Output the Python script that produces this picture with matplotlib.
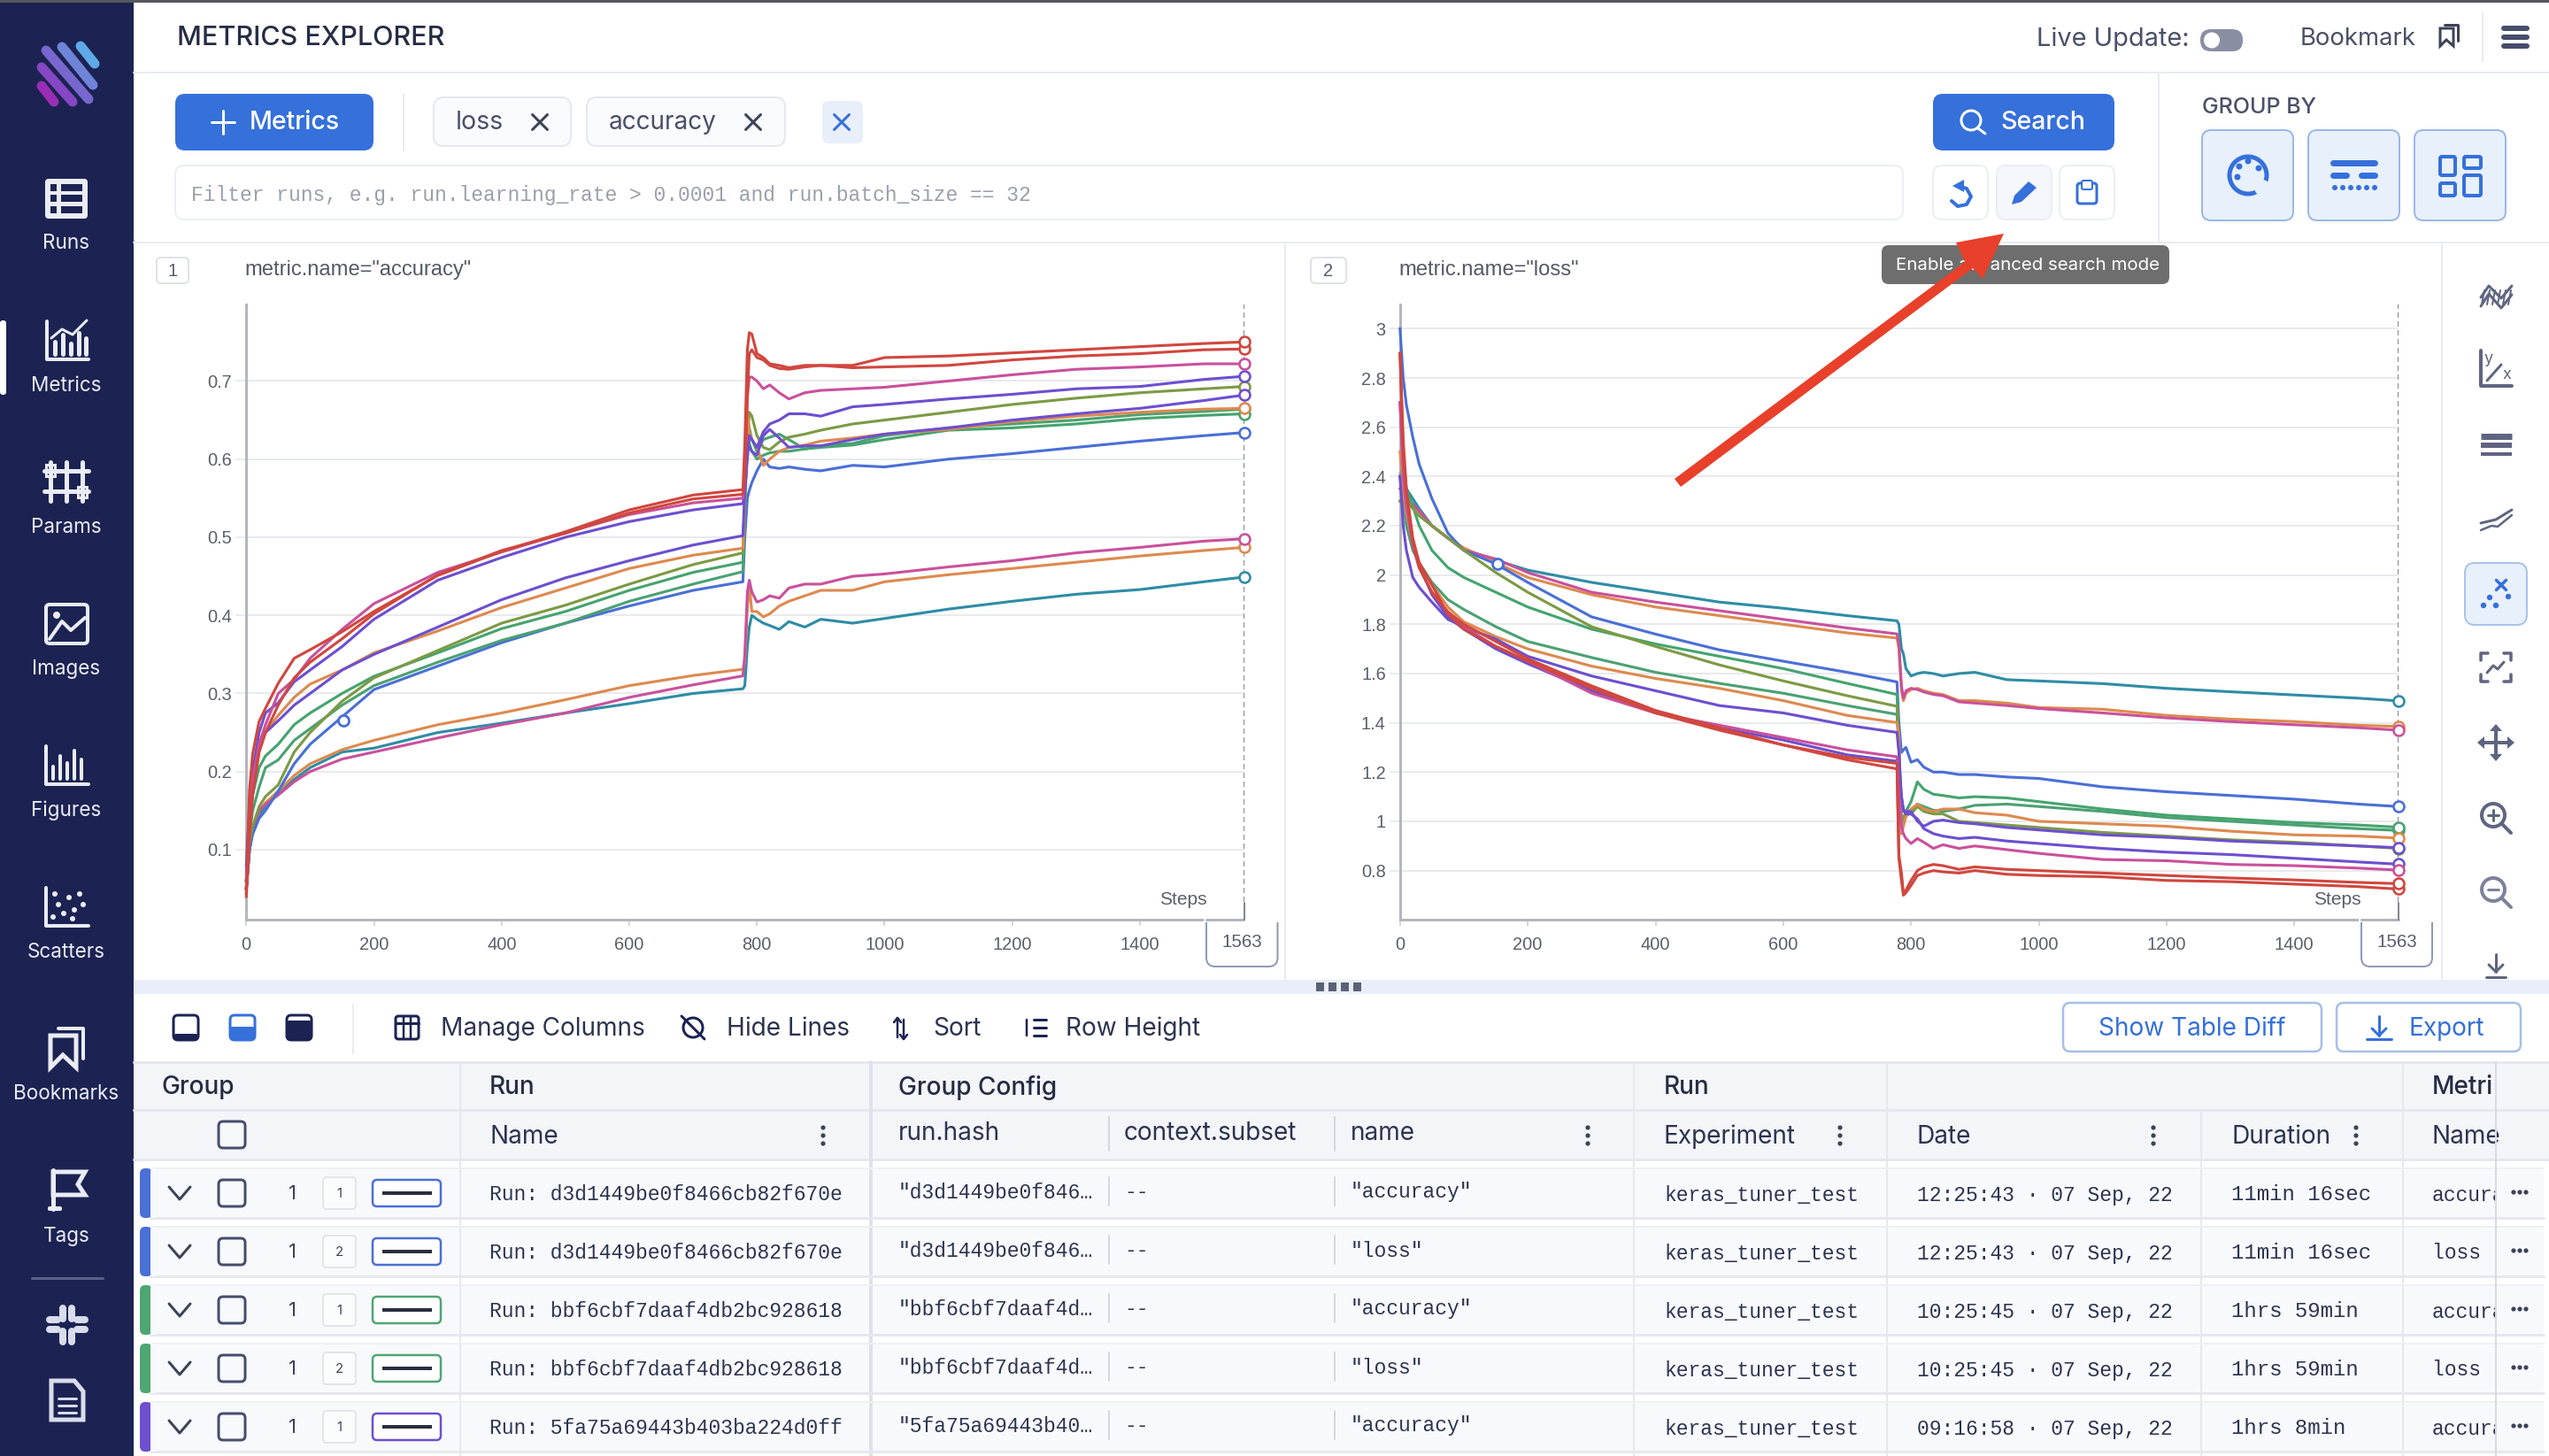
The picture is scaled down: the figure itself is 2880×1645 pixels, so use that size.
import matplotlib
matplotlib.use("Agg")
import matplotlib.pyplot as plt
from matplotlib.patches import FancyBboxPatch, Rectangle, Polygon, Circle

# shared x knots for both charts
steps = [0, 5, 10, 20, 30, 50, 75, 100, 150, 200, 300, 400, 500, 600, 700, 778,
         781, 785, 788, 792, 800, 810, 820, 835, 850, 875, 900, 950, 1000, 1100, 1200, 1300, 1400, 1500, 1563]

acc_teal = [.05, .1, .125, .145, .155, .172, .19, .205, .225, .23, .25, .262, .275, .287, .3, .306,
            .31, .36, .385, .4, .395, .39, .387, .382, .392, .385, .395, .39, .396, .408, .418, .427, .433, .443, .449]
acc_orange2 = [.05, .1, .125, .15, .16, .175, .195, .21, .228, .24, .26, .275, .292, .31, .323, .331,
               .34, .41, .44, .405, .405, .398, .402, .412, .418, .425, .432, .432, .443, .452, .46, .468, .476, .483, .487]
acc_pink2 = [.05, .1, .125, .15, .158, .17, .187, .2, .216, .225, .243, .26, .275, .295, .311, .3225,
             .35, .43, .445, .43, .417, .42, .425, .422, .435, .44, .44, .45, .453, .462, .47, .48, .487, .495, .498]
acc_blue = [.05, .1, .12, .14, .15, .175, .21, .235, .27, .305, .335, .365, .39, .412, .432, .443,
            .5, .55, .56, .57, .585, .6, .59, .588, .59, .587, .585, .592, .59, .6, .607, .615, .623, .63, .634]
acc_green2 = [.06, .12, .15, .18, .205, .215, .24, .255, .285, .31, .34, .368, .39, .418, .44, .456,
              .53, .63, .62, .61, .6, .605, .608, .61, .61, .613, .617, .62, .63, .64, .645, .65, .657, .661, .664]
acc_green1 = [.06, .13, .17, .205, .22, .235, .26, .275, .3, .322, .352, .383, .405, .432, .455, .468,
              .54, .65, .64, .625, .61, .625, .628, .632, .625, .613, .615, .618, .625, .637, .64, .645, .652, .656, .658]
acc_olive = [.06, .11, .13, .155, .168, .183, .225, .25, .29, .32, .355, .39, .413, .44, .465, .48,
             .55, .62, .66, .655, .63, .615, .612, .622, .628, .632, .637, .645, .65, .66, .67, .678, .685, .69, .693]
acc_orange1 = [.05, .13, .18, .225, .25, .272, .295, .312, .33, .352, .38, .41, .435, .46, .477, .486,
               .55, .66, .635, .625, .615, .592, .6, .61, .615, .618, .623, .627, .632, .638, .648, .655, .66, .664, .665]
acc_purple2 = [.06, .15, .2, .237, .25, .265, .285, .3, .33, .35, .385, .42, .448, .47, .49, .502,
               .56, .62, .615, .61, .605, .63, .638, .627, .615, .617, .617, .625, .632, .64, .65, .658, .665, .675, .682]
acc_purple1 = [.08, .16, .2, .25, .275, .288, .315, .33, .36, .395, .445, .474, .5, .52, .535, .543,
               .56, .6, .63, .625, .615, .635, .645, .65, .658, .658, .655, .667, .67, .677, .683, .69, .693, .702, .706]
acc_pink1 = [.05, .14, .19, .235, .26, .3, .318, .345, .382, .415, .455, .481, .506, .529, .544, .55,
             .58, .68, .705, .705, .7, .69, .695, .685, .677, .685, .688, .69, .692, .7, .708, .715, .718, .722, .722]
acc_red2 = [.04, .12, .17, .225, .25, .285, .32, .34, .37, .402, .452, .483, .505, .531, .549, .555,
            .58, .68, .735, .74, .73, .727, .72, .716, .715, .718, .72, .717, .718, .72, .727, .732, .735, .74, .741]
acc_red1 = [.044, .177, .223, .264, .281, .313, .345, .356, .379, .405, .451, .482, .507, .535, .554, .561,
            .62, .74, .762, .76, .735, .73, .722, .72, .717, .72, .72, .72, .73, .732, .736, .74, .744, .748, .75]

loss_teal = [2.4, 2.37, 2.35, 2.31, 2.27, 2.2, 2.15, 2.105, 2.06, 2.02, 1.97, 1.93, 1.89, 1.865, 1.835, 1.814,
             1.8, 1.7, 1.68, 1.62, 1.59, 1.6, 1.605, 1.6, 1.59, 1.6, 1.605, 1.575, 1.57, 1.559, 1.54, 1.526, 1.513, 1.5, 1.489]
loss_orange2 = [2.3, 2.3, 2.3, 2.28, 2.25, 2.2, 2.15, 2.11, 2.05, 1.99, 1.92, 1.87, 1.835, 1.8, 1.765, 1.744,
                1.7, 1.53, 1.49, 1.52, 1.535, 1.54, 1.53, 1.52, 1.515, 1.49, 1.49, 1.48, 1.462, 1.455, 1.43, 1.415, 1.405, 1.39, 1.385]
loss_pink2 = [2.35, 2.33, 2.32, 2.29, 2.26, 2.2, 2.15, 2.1, 2.065, 2.01, 1.93, 1.89, 1.855, 1.82, 1.785, 1.761,
              1.72, 1.55, 1.5, 1.53, 1.54, 1.535, 1.525, 1.515, 1.51, 1.485, 1.48, 1.47, 1.458, 1.44, 1.42, 1.405, 1.392, 1.38, 1.37]
loss_blue = [3.0, 2.8, 2.69, 2.56, 2.45, 2.31, 2.17, 2.1, 2.045, 1.97, 1.83, 1.76, 1.696, 1.65, 1.605, 1.566,
             1.4, 1.28, 1.29, 1.3, 1.24, 1.25, 1.22, 1.2, 1.2, 1.19, 1.19, 1.18, 1.174, 1.14, 1.12, 1.105, 1.09, 1.07, 1.06]
loss_green2 = [2.4, 2.3, 2.2, 2.1, 2.05, 1.97, 1.9, 1.86, 1.79, 1.73, 1.665, 1.605, 1.56, 1.52, 1.47, 1.434,
               1.3, .98, 1.0, 1.02, 1.04, 1.07, 1.06, 1.045, 1.04, 1.05, 1.065, 1.07, 1.06, 1.04, 1.015, 1.0, .985, .97, .963]
loss_green1 = [2.4, 2.45, 2.35, 2.28, 2.2, 2.1, 2.03, 1.99, 1.93, 1.87, 1.78, 1.72, 1.67, 1.62, 1.56, 1.515,
               1.3, .95, 1.0, 1.04, 1.08, 1.16, 1.13, 1.11, 1.105, 1.095, 1.1, 1.095, 1.08, 1.05, 1.025, 1.01, .995, .985, .976]
loss_olive = [2.3, 2.3, 2.3, 2.27, 2.24, 2.2, 2.15, 2.1, 2.01, 1.93, 1.79, 1.71, 1.635, 1.57, 1.51, 1.467,
              1.3, 1.0, 1.02, 1.03, 1.03, 1.06, 1.04, 1.03, 1.03, 1.0, .995, .985, .975, .955, .94, .925, .915, .9, .89]
loss_orange1 = [2.5, 2.35, 2.25, 2.13, 2.05, 1.96, 1.87, 1.81, 1.75, 1.7, 1.63, 1.58, 1.54, 1.49, 1.43, 1.401,
                1.35, .95, .98, 1.02, 1.05, 1.07, 1.05, 1.04, 1.05, 1.05, 1.035, 1.025, 1.0, .99, .98, .96, .945, .94, .932]
loss_purple2 = [2.4, 2.2, 2.1, 1.99, 1.95, 1.89, 1.82, 1.79, 1.74, 1.67, 1.59, 1.53, 1.47, 1.44, 1.39, 1.361,
                1.28, 1.1, 1.04, 1.04, 1.04, 1.0, .98, 1.0, 1.005, .995, .99, .975, .965, .945, .935, .92, .91, .9, .893]
loss_purple1 = [2.7, 2.45, 2.3, 2.14, 2.04, 1.92, 1.83, 1.78, 1.7, 1.64, 1.53, 1.44, 1.38, 1.33, 1.27, 1.244,
                1.2, 1.1, 1.05, 1.03, 1.03, 1.01, .97, .95, .94, .93, .935, .92, .91, .89, .875, .865, .85, .835, .826]
loss_pink1 = [2.7, 2.4, 2.28, 2.12, 2.03, 1.93, 1.85, 1.79, 1.71, 1.65, 1.52, 1.44, 1.39, 1.34, 1.29, 1.262,
              1.1, .98, .95, .93, .91, .93, .915, .89, .905, .89, .9, .885, .87, .845, .84, .825, .82, .81, .802]
loss_red2 = [2.9, 2.5, 2.33, 2.13, 2.03, 1.93, 1.85, 1.8, 1.73, 1.66, 1.55, 1.45, 1.38, 1.31, 1.25, 1.213,
             .85, .76, .7, .71, .74, .78, .79, .8, .795, .79, .8, .785, .78, .775, .76, .755, .745, .735, .725]
loss_red1 = [2.9, 2.55, 2.35, 2.15, 2.05, 1.96, 1.84, 1.78, 1.71, 1.65, 1.54, 1.44, 1.37, 1.31, 1.26, 1.235,
             .86, .79, .71, .72, .76, .8, .815, .825, .82, .805, .815, .805, .8, .79, .78, .77, .762, .752, .747]

acc_series = [acc_teal, acc_orange2, acc_pink2, acc_blue, acc_green2, acc_green1, acc_olive,
              acc_orange1, acc_purple2, acc_purple1, acc_pink1, acc_red2, acc_red1]
loss_series = [loss_teal, loss_orange2, loss_pink2, loss_blue, loss_green2, loss_green1, loss_olive,
               loss_orange1, loss_purple2, loss_purple1, loss_pink1, loss_red2, loss_red1]
hover_step = 152
hover_acc = 0.265
hover_loss = 2.045
last_step = 1563

acc_ticks = [0.1, 0.2, 0.3, 0.4, 0.5, 0.6, 0.7]
acc_tick_labels = ["0.1", "0.2", "0.3", "0.4", "0.5", "0.6", "0.7"]
loss_ticks = [0.8, 1, 1.2, 1.4, 1.6, 1.8, 2, 2.2, 2.4, 2.6, 2.8, 3]
loss_tick_labels = ["0.8", "1", "1.2", "1.4", "1.6", "1.8", "2", "2.2", "2.4", "2.6", "2.8", "3"]
x_ticks = [0, 200, 400, 600, 800, 1000, 1200, 1400]

row_runs = ["d3d1449be0f8466cb82f670e", "d3d1449be0f8466cb82f670e", "bbf6cbf7daaf4db2bc928618",
            "bbf6cbf7daaf4db2bc928618", "5fa75a69443b403ba224d0ff"]
row_hash = ['"d3d1449be0f846…', '"d3d1449be0f846…', '"bbf6cbf7daaf4d…', '"bbf6cbf7daaf4d…', '"5fa75a69443b40…']
row_name = ['"accuracy"', '"loss"', '"accuracy"', '"loss"', '"accuracy"']
row_date = ["12:25:43 · 07 Sep, 22", "12:25:43 · 07 Sep, 22", "10:25:45 · 07 Sep, 22",
            "10:25:45 · 07 Sep, 22", "09:16:58 · 07 Sep, 22"]
row_duration = ["11min 16sec", "11min 16sec", "1hrs 59min", "1hrs 59min", "1hrs 8min"]
row_metric = ["accuracy", "loss", "accuracy", "loss", "accuracy"]
row_index = ["1", "2", "1", "2", "1"]

line_colors = ["#2f8ca6", "#dd8a4f", "#c9519c", "#4a6fd6", "#4ba173", "#45a46f", "#7c9a44",
               "#dd8a4f", "#6d4fcf", "#6d4fcf", "#c9519c", "#d0473f", "#d0473f"]
row_colors = ["#4a6fd6", "#4a6fd6", "#4fa672", "#4fa672", "#6d4fcf"]

NAVY = "#1c2352"
BLUE = "#3570db"
INK = "#3c4358"
LINE = "#e9ebf0"
ICON = "#e9ecf5"
GREY_ICON = "#5f6580"

W, H = 2880, 1645
fig = plt.figure(figsize=(14.4, 8.225), dpi=200, facecolor="white")

ax = fig.add_axes([0, 0, 1, 1], zorder=0)
ax.set_xlim(0, W)
ax.set_ylim(H, 0)
ax.axis("off")

top = fig.add_axes([0, 0, 1, 1], zorder=5)
top.set_xlim(0, W)
top.set_ylim(H, 0)
top.axis("off")
top.patch.set_alpha(0)


def pt(px):
    return px * 0.36


def box(x0, y0, x1, y1, fc="white", ec="none", r=0, lw=2, z=2, a=ax):
    if r:
        p = FancyBboxPatch((x0 + r, y0 + r), x1 - x0 - 2 * r, y1 - y0 - 2 * r,
                           boxstyle=f"round,pad={r},rounding_size={r}",
                           fc=fc, ec=ec, lw=pt(lw), zorder=z)
    else:
        p = Rectangle((x0, y0), x1 - x0, y1 - y0, fc=fc, ec=ec, lw=pt(lw), zorder=z)
    a.add_patch(p)
    return p


def line(xs, ys, color=INK, lw=2, z=3, a=ax, cap="round"):
    a.plot(xs, ys, color=color, lw=pt(lw), zorder=z, solid_capstyle=cap, solid_joinstyle="round")


def txt(x, y, s, size=28, color=INK, ha="left", family="Inter", weight="normal", z=4, a=ax):
    return a.text(x, y + 2, s, fontsize=pt(size), color=color, ha=ha, va="center",
                  family=family, fontweight=weight, zorder=z)


def mono(x, y, s, color=INK, size=23, ha="left"):
    return txt(x, y, s, size=size, color=color, family="Liberation Mono", ha=ha)


def cross(x, y, s, color=INK, lw=3):
    line([x - s, x + s], [y - s, y + s], color, lw)
    line([x - s, x + s], [y + s, y - s], color, lw)


def dots_v(x, y, color=INK):
    for d in (-9, 0, 9):
        ax.add_patch(Circle((x, y + d), 2.6, fc=color, ec="none", zorder=4))


# ---- sidebar
box(0, 0, 151, H, fc=NAVY, z=1)
box(0, 0, W, 3, fc="#55585c", z=6)
logo = [((91, 52), (107, 72), "#5ea9e8"), ((70, 53), (105, 96), "#6f83d8"), ((52, 57), (100, 112), "#7767cf"),
        ((47, 76), (82, 115), "#8547c4"), ((47, 97), (61, 115), "#9a2db5")]
for a_, b_, c_ in logo:
    line([a_[0], b_[0]], [a_[1], b_[1]], c_, 11)

side_labels = [("Runs", 273), ("Metrics", 434), ("Params", 594), ("Images", 754), ("Figures", 914),
               ("Scatters", 1074), ("Bookmarks", 1234), ("Tags", 1395)]
for label, y in side_labels:
    txt(75, y, label, size=22.5, color=ICON, ha="center")
box(0, 362, 7, 446, fc="white", r=3)

# runs
box(51, 202, 99, 247, fc=ICON, r=4, z=3)
for yy in (208, 220, 233):
    box(57, yy, 64, yy + 8, fc=NAVY, z=4)
    box(69, yy, 93, yy + 8, fc=NAVY, z=4)
# metrics
line([53, 53, 100], [363, 406, 406], ICON, 4)
for xx, h_ in zip((62, 71, 80, 89, 97), (14, 22, 12, 24, 18)):
    line([xx, xx], [400, 400 - h_], ICON, 5)
line([58, 70, 82, 98], [382, 372, 378, 362], ICON, 3)
# params
for xx in (57, 75, 93):
    line([xx, xx], [522, 566], ICON, 5)
for yy in (532, 555):
    line([50, 100], [yy, yy], ICON, 5)
box(52, 525, 62, 538, fc="none", ec=ICON, lw=3, z=3)
box(88, 550, 98, 562, fc="none", ec=ICON, lw=3, z=3)
# images
box(52, 683, 99, 727, fc="none", ec=ICON, r=4, lw=4, z=3)
line([56, 70, 80, 96], [722, 702, 712, 698], ICON, 4)
ax.add_patch(Circle((64, 695), 4, fc=ICON, zorder=3))
# figures
line([52, 52, 100], [843, 886, 886], ICON, 4)
for xx, h_ in zip((60, 68, 76, 84, 92), (14, 26, 18, 32, 22)):
    line([xx, xx], [880, 880 - h_], ICON, 4)
# scatters
line([52, 52, 100], [1003, 1046, 1046], ICON, 4)
for xx, yy in zip((60, 66, 72, 78, 84, 90, 94, 62, 82), (1036, 1022, 1032, 1014, 1028, 1010, 1022, 1010, 1038)):
    ax.add_patch(Circle((xx, yy), 3, fc=ICON, zorder=3))
# bookmarks
ax.add_patch(Polygon([(57, 1170), (86, 1170), (86, 1206), (71, 1192), (57, 1206)], fc="none", ec=ICON, lw=pt(5), zorder=3))
line([66, 94, 94], [1162, 1162, 1196], ICON, 4)
# tags
line([60, 60], [1322, 1366], ICON, 5)
ax.add_patch(Polygon([(60, 1324), (96, 1324), (88, 1338), (96, 1350), (60, 1350)], fc="none", ec=ICON, lw=pt(5), zorder=3))
box(54, 1363, 70, 1368, fc=ICON, r=2, z=3)
line([36, 116], [1444, 1444], "#5a6088", 3)
# slack
for xx in (71, 81):
    line([xx, xx], [1478, 1490], "#d9dcea", 8)
    line([xx, xx], [1504, 1516], "#d9dcea", 8)
for yy in (1491, 1502):
    line([56, 65], [yy, yy], "#d9dcea", 8)
    line([87, 96], [yy, yy], "#d9dcea", 8)
# doc
ax.add_patch(Polygon([(58, 1560), (84, 1560), (94, 1572), (94, 1604), (58, 1604)], fc="none", ec="#d9dcea", lw=pt(5), zorder=3))
for yy in (1580, 1588, 1596):
    line([66, 86], [yy, yy], "#d9dcea", 3)

# ---- header
txt(200, 41, "METRICS EXPLORER", size=30.5, color="#262c44", weight="medium")
line([151, W], [82, 82], LINE, 2)
line([151, W], [274, 274], LINE, 2)
txt(2301, 42, "Live Update:", size=29, color="#4a5068")
box(2486, 33, 2534, 58, fc="#8a8ea3", r=12, z=3)
ax.add_patch(Circle((2499, 45.5), 9, fc="white", zorder=4))
txt(2599, 42, "Bookmark", size=27.5, color="#4a5068")
ax.add_patch(Polygon([(2757, 32), (2772, 32), (2772, 52), (2764, 45), (2757, 52)], fc="none", ec=INK, lw=pt(3), zorder=3))
line([2762, 2777, 2777], [28, 28, 46], INK, 3)
line([2805, 2805], [14, 70], LINE, 2)
for yy in (32, 42, 52):
    line([2829, 2855], [yy, yy], "#474d6c", 6)

box(198, 106, 422, 170, fc=BLUE, r=11)
line([252, 252], [125, 151], "white", 3)
line([239, 265], [138, 138], "white", 3)
txt(333, 136, "Metrics", size=28.5, color="white", ha="center", weight="medium")
line([456, 456], [106, 170], LINE, 2)
box(490, 110, 645, 165, fc="#fafbfe", ec="#e6e8ef", r=11)
txt(515, 136, "loss", size=28.5, color="#4a5068")
cross(610, 138, 8.5)
box(663, 110, 887, 165, fc="#fafbfe", ec="#e6e8ef", r=11)
txt(688, 136, "accuracy", size=28, color="#4a5068")
cross(851, 138, 8.5)
box(929, 114, 975, 162, fc="#e8effb", r=7)
cross(951, 138, 8.5, color=BLUE)
box(198, 187, 2150, 248, fc="white", ec="#eceef3", r=10)
mono(216, 218, "Filter runs, e.g. run.learning_rate > 0.0001 and run.batch_size == 32", color="#9a9fab")

box(2184, 106, 2389, 170, fc=BLUE, r=11)
ax.add_patch(Circle((2227, 136), 11, fc="none", ec="white", lw=pt(3), zorder=4))
line([2235, 2243], [145, 151], "white", 3)
txt(2260, 136, "Search", size=28.5, color="white", weight="medium")
for x0, x1, fc_ in [(2184, 2246, "white"), (2256, 2318, "#f5f7fc"), (2327, 2389, "white")]:
    box(x0, 187, x1, 248, fc=fc_, ec="#eceef3", r=10)
ang = [(2212, 210), (2222, 213), (2227, 222), (2222, 231), (2212, 233), (2205, 227)]
line([p[0] for p in ang], [p[1] for p in ang], BLUE, 4)
ax.add_patch(Polygon([(2219, 203), (2206, 210), (2219, 217)], fc=BLUE, zorder=4))
ax.add_patch(Polygon([(2273, 231), (2276, 221), (2292, 205), (2301, 212), (2284, 228)], fc=BLUE, zorder=4))
box(2347, 207, 2369, 230, fc="none", ec=BLUE, r=3, lw=3, z=3)
box(2352, 204, 2364, 214, fc="white", ec=BLUE, r=2, lw=2, z=4)
line([2439, 2439], [82, 274], LINE, 2)
txt(2488, 120, "GROUP BY", size=25, color="#4a5068", weight="medium")
for x0 in (2488, 2608, 2728):
    box(x0, 147, x0 + 103, 249, fc="#e8f0fb", ec="#9ab8e6", r=10)
ax.add_patch(Circle((2540, 198), 21, fc="none", ec=BLUE, lw=pt(5), zorder=4))
ax.add_patch(Circle((2556, 212), 9, fc="#e8f0fb", ec="none", zorder=5))
for xx, yy in ((2530, 188), (2540, 182), (2552, 190), (2528, 200)):
    ax.add_patch(Circle((xx, yy), 3.5, fc=BLUE, zorder=5))
line([2636, 2683], [184, 184], BLUE, 7)
line([2636, 2651], [198, 198], BLUE, 7)
line([2668, 2683], [198, 198], BLUE, 7)
for xx in (2638, 2647, 2656, 2665, 2674, 2683):
    ax.add_patch(Circle((xx, 212), 3, fc=BLUE, zorder=4))
for x0, y0, x1, y1 in [(2757, 177, 2774, 198), (2784, 177, 2803, 190), (2757, 207, 2774, 221), (2784, 198, 2803, 221)]:
    box(x0, y0, x1, y1, fc="none", ec=BLUE, r=2, lw=4, z=4)

# ---- panels
line([1452, 1452], [274, 1107], LINE, 2)
line([2759, 2759], [274, 1107], LINE, 2)
box(177, 291, 213, 320, fc="white", ec="#e0e2e8", r=5)
txt(195, 305, "1", size=20, color="#555a66", ha="center", family="Liberation Sans")
txt(276, 303, 'metric.name="accuracy"', size=23.7, color="#555a66", family="Liberation Sans")
box(1481, 291, 1521, 320, fc="white", ec="#e0e2e8", r=5)
txt(1501, 305, "2", size=20, color="#555a66", ha="center", family="Liberation Sans")
txt(1580, 303, 'metric.name="loss"', size=23.7, color="#555a66", family="Liberation Sans")

ax1 = fig.add_axes([278.3 / W, (H - 1038.7) / H, (1405.5 - 278.3) / W, (1038.7 - 343.8) / H], zorder=2)
ax2 = fig.add_axes([1581.8 / W, (H - 1038.7) / H, (2709.9 - 1581.8) / W, (1038.7 - 343.8) / H], zorder=2)

for c, series, ticks, labels, ylim, hy in [
    (ax1, acc_series, acc_ticks, acc_tick_labels, (0.0108, 0.7982), hover_acc),
    (ax2, loss_series, loss_ticks, loss_tick_labels, (0.602, 3.099), hover_loss),
]:
    c.patch.set_alpha(0)
    for vals, col in zip(series, line_colors):
        c.plot(steps, vals, color=col, lw=pt(3.1), solid_joinstyle="round", clip_on=False, zorder=3)
        c.plot([last_step], [vals[-1]], "o", ms=pt(12), mfc="white", mec=col, mew=pt(2.6), clip_on=False, zorder=4)
    c.plot([hover_step], [hy], "o", ms=pt(12), mfc="white", mec="#4a6fd6", mew=pt(2.8), clip_on=False, zorder=5)
    c.set_xlim(0, last_step)
    c.set_ylim(*ylim)
    c.set_xticks(x_ticks)
    c.set_yticks(ticks)
    c.set_yticklabels(labels)
    c.grid(True, axis="y", color="#e4e6ea", lw=pt(1.6))
    c.set_axisbelow(True)
    c.tick_params(axis="both", labelsize=pt(20), colors="#5a5f6b", length=pt(7), width=pt(1.5), color="#c8cad0")
    c.tick_params(axis="x", pad=pt(12))
    c.tick_params(axis="y", pad=pt(4), length=pt(12), color="#e4e6ea")
    for lab in c.get_xticklabels() + c.get_yticklabels():
        lab.set_family("Liberation Sans")
    for s in ("top", "right"):
        c.spines[s].set_visible(False)
    for s in ("left", "bottom"):
        c.spines[s].set_color("#b4b6bc")
        c.spines[s].set_linewidth(pt(3))
    c.axvline(last_step, color="#85878f", lw=pt(2), ls=(0, (3, 2)), zorder=2)

for x0, x1, tx, sx in [(1363, 1443.5, 1403, 1310), (2668, 2748, 2708, 2614)]:
    box(x0, 1030, x1, 1092, fc="white", ec="#8f99b8", r=10, lw=2, z=3, a=top)
    box(x0 - 3, 1020, x1 + 3, 1042, fc="white", z=3.5, a=top)
    txt(tx, 1063, str(last_step), size=20.5, color="#5a5f6b", ha="center", family="Liberation Sans", a=top)
    txt(sx, 1015, "Steps", size=21, color="#5a5f6b", family="Liberation Sans", a=top)

# the x axis line was masked by the 1563 box cover, draw it back
line([1363, 1405], [1039, 1039], "#b4b6bc", 3, a=top, z=5)
line([2668, 2710], [1039, 1039], "#b4b6bc", 3, a=top, z=5)
line([1405.5, 1405.5], [1020, 1039], "#85878f", 2, a=top, z=5)
line([2709.9, 2709.9], [1020, 1039], "#85878f", 2, a=top, z=5)

# tooltip + red arrow
box(2126, 277, 2451, 321, fc="#6e6e6e", r=8, z=6, a=top)
txt(2142, 298, "Enable advanced search mode", size=20.5, color="white", a=top, z=7)
top.add_patch(Polygon([(1892, 541), (2220, 296), (2210, 274), (2264, 264), (2240, 315), (2229, 303), (1899, 550)],
                      fc="#e8402a", ec="none", zorder=8))

# right tool icons
box(2785, 636, 2855, 706, fc="#e8f0fb", ec="#a9c3ec", r=11, z=2)
for xx in range(2804, 2838, 6):
    line([xx, xx + 3], [344, 328], GREY_ICON, 2)
line([2803, 2812, 2826, 2838], [336, 323, 337, 323], GREY_ICON, 3)
line([2803, 2812, 2826, 2838], [346, 332, 348, 333], GREY_ICON, 3)
line([2803, 2803, 2838], [396, 436, 436], GREY_ICON, 4)
line([2810, 2826], [430, 412], GREY_ICON, 3)
txt(2812, 403, "y", size=18, color=GREY_ICON, ha="center")
txt(2832, 421, "x", size=18, color=GREY_ICON, ha="center")
for yy, lw_ in ((493, 7), (503, 6), (513, 4)):
    line([2803, 2838], [yy, yy], GREY_ICON, lw_, cap="butt")
line([2803, 2820, 2838], [591, 587, 576], GREY_ICON, 3)
line([2803, 2815, 2822, 2838], [599, 594, 595, 582], GREY_ICON, 2.5)
for xx, yy in ((2806, 684), (2813, 675), (2820, 684), (2834, 674)):
    ax.add_patch(Circle((xx, yy), 3.2, fc=BLUE, zorder=4))
cross(2826, 661, 5.5, color=BLUE, lw=3.5)
for sx, sy in ((-1, -1), (1, -1), (-1, 1), (1, 1)):
    xe, ye = 2820 + sx * 17, 754 + sy * 16
    line([xe, xe, xe - sx * 8], [ye - sy * 8, ye, ye], GREY_ICON, 3.5)
line([2810, 2817, 2822, 2829], [760, 752, 756, 748], GREY_ICON, 3)
line([2803, 2837], [839, 839], GREY_ICON, 4)
line([2820, 2820], [822, 856], GREY_ICON, 4)
for pts in ([(2820, 818), (2813, 826), (2827, 826)], [(2820, 860), (2813, 852), (2827, 852)],
            [(2799, 839), (2807, 832), (2807, 846)], [(2841, 839), (2833, 832), (2833, 846)]):
    ax.add_patch(Polygon(pts, fc=GREY_ICON, zorder=4))
for yy, plus, col in ((921, True, GREY_ICON), (1005, False, "#7d829a")):
    ax.add_patch(Circle((2817, yy), 13, fc="none", ec=col, lw=pt(4), zorder=4))
    line([2827, 2837], [yy + 10, yy + 20], col, 4)
    line([2811, 2823], [yy, yy], col, 3)
    if plus:
        line([2817, 2817], [yy - 6, yy + 6], col, 3)
line([2820, 2820], [1078, 1098], GREY_ICON, 3)
line([2812, 2820, 2828], [1090, 1098, 1090], GREY_ICON, 3)
line([2809, 2831], [1104, 1104], GREY_ICON, 3)

# ---- splitter + toolbar
box(151, 1107, W, 1122.6, fc="#e9eefa", z=3)
for xx in (1487, 1501, 1515, 1529):
    box(xx, 1110, xx + 9, 1120, fc="#5a6275", z=4)
for xx, fill_y, col in ((210, 1168, NAVY), (274, 1160, BLUE), (338, 1153, NAVY)):
    box(xx - 14, 1147, xx + 14, 1175, fc="white", ec=col, r=5, lw=3, z=3)
    box(xx - 14, fill_y, xx + 14, 1175, fc=col, r=3, z=3)
line([399, 399], [1135, 1190], LINE, 2)
box(447, 1148, 473, 1174, fc="none", ec=NAVY, r=3, lw=3, z=3)
line([447, 473], [1156, 1156], NAVY, 3)
line([456, 456], [1148, 1174], NAVY, 2.5)
line([464, 464], [1148, 1174], NAVY, 2.5)
txt(498, 1160, "Manage Columns", size=28, color="#2d3450")
ax.add_patch(Circle((783, 1161), 11, fc="none", ec=NAVY, lw=pt(3), zorder=3))
line([770, 796], [1148, 1174], NAVY, 3)
txt(821, 1160, "Hide Lines", size=28, color="#2d3450")
line([1014, 1014], [1150, 1172], NAVY, 2.5)
line([1021, 1021], [1152, 1174], NAVY, 2.5)
line([1010, 1014, 1018], [1155, 1150, 1155], NAVY, 2.5)
line([1017, 1021, 1025], [1169, 1174, 1169], NAVY, 2.5)
txt(1054, 1160, "Sort", size=28, color="#2d3450")
for yy in (1152, 1161, 1170):
    line([1168, 1182], [yy, yy], NAVY, 3)
line([1160, 1160], [1152, 1170], NAVY, 2.5)
txt(1204, 1160, "Row Height", size=28, color="#2d3450")
box(2331, 1133, 2623, 1188, fc="white", ec="#a6bfe6", r=8, lw=2.5)
txt(2477, 1160, "Show Table Diff", size=28, color=BLUE, ha="center")
box(2640, 1133, 2848, 1188, fc="white", ec="#a6bfe6", r=8, lw=2.5)
line([2688, 2688], [1148, 1170], BLUE, 3)
line([2680, 2688, 2696], [1162, 1170, 1162], BLUE, 3)
line([2674, 2702], [1174, 1174], BLUE, 3)
txt(2721, 1160, "Export", size=28, color=BLUE)

# ---- table header
box(151, 1200, W, 1310, fc="#f3f5f9", z=2)
line([151, W], [1200, 1200], "#e6e8ee", 3)
line([151, W], [1254, 1254], "#e6e8ee", 3)
line([151, W], [1310, 1310], "#e6e8ee", 3)
txt(182, 1227, "Group", size=28, color="#262c44", weight="medium")
txt(553, 1227, "Run", size=28, color="#262c44", weight="medium")
txt(1015, 1227, "Group Config", size=28, color="#262c44", weight="medium")
txt(1880, 1227, "Run", size=28, color="#262c44", weight="medium")
txt(2748, 1227, "Metri", size=28, color="#262c44", weight="medium")
box(247, 1267, 277, 1297, fc="#f7f8fb", ec="#474d6c", r=5, lw=3, z=3)
txt(553, 1282, "Name", size=28, color="#2d3450")
dots_v(930, 1283)
txt(1015, 1279, "run.hash", size=28, color="#2d3450")
txt(1270, 1279, "context.subset", size=28, color="#2d3450")
txt(1526, 1279, "name", size=28, color="#2d3450")
dots_v(1794, 1283)
txt(1880, 1282, "Experiment", size=28, color="#2d3450")
dots_v(2079, 1283)
txt(2166, 1282, "Date", size=28, color="#2d3450")
dots_v(2433, 1283)
txt(2521, 1282, "Duration", size=28, color="#2d3450")
dots_v(2662, 1283)
txt(2748, 1282, "Name", size=28, color="#2d3450")

for xx in (520, 1846, 2132, 2715):
    line([xx, xx], [1200, 1645], "#e6e8ee", 2, z=3)
line([984, 984], [1200, 1645], "#dfe2e9", 4, z=3)
line([2487, 2487], [1254, 1645], "#e6e8ee", 2, z=3)
line([1253, 1253], [1262, 1300], "#d4d7de", 2, z=3)
line([1508, 1508], [1262, 1300], "#d4d7de", 2, z=3)

# ---- table rows
for i in range(5):
    y0 = 1320 + i * 66
    y1 = y0 + 56
    yc = y0 + 28
    box(160, y0, 2874, y1, fc="#f8f9fd", z=2)
    line([170, 2874], [y1, y1], "#e6e8ee", 3)
    line([170, 2874], [y0, y0], "#eef0f4", 2)
    box(158, y0, 172, y1, fc=row_colors[i], r=6, z=3)
    box(170, y0, 176, y1, fc="#f8f9fd", z=3)
    line([191, 203, 215], [yc - 7, yc + 7, yc - 7], "#3c4358", 3)
    box(247, yc - 15, 277, yc + 15, fc="#f8f9fd", ec="#474d6c", r=5, lw=3, z=3)
    txt(330, yc - 1, "1", size=22, color="#3c4358", ha="center")
    box(365, yc - 18, 402, yc + 18, fc="#fbfcfe", ec="#e3e5ea", r=4, lw=2, z=3)
    txt(383.5, yc - 1, row_index[i], size=15, color="#3c4358", ha="center")
    box(421, yc - 15, 498, yc + 15, fc="white", ec=row_colors[i], r=5, lw=2.5, z=3)
    line([432, 488], [yc, yc], "#2a2f3f", 4, cap="butt", z=4)
    mono(553, yc, "Run: " + row_runs[i], color="#2d3450")
    mono(1015, yc - 3, row_hash[i], color="#2d3450")
    mono(1270, yc - 3, "--", color="#2d3450")
    mono(1526, yc - 3, row_name[i], color="#2d3450")
    mono(1880, yc, "keras_tuner_test", color="#2d3450")
    mono(2166, yc, row_date[i], color="#2d3450")
    mono(2521, yc, row_duration[i], color="#2d3450", size=24)
    t = mono(2748, yc, row_metric[i], color="#2d3450")
    t.set_clip_path(Rectangle((2700, yc - 30), 120, 60, transform=ax.transData))
    t.set_clip_on(True)
    line([1253, 1253], [yc - 18, yc + 14], "#d4d7de", 2, z=3)
    line([1508, 1508], [yc - 18, yc + 14], "#d4d7de", 2, z=3)
    for d in (-7, 0, 7):
        ax.add_patch(Circle((2847 + d, yc - 1), 2.6, fc="#3c4358", zorder=5))
line([2820, 2820], [1200, 1645], "#d7dae2", 2, z=4)

fig.savefig("out.png", dpi=200)
